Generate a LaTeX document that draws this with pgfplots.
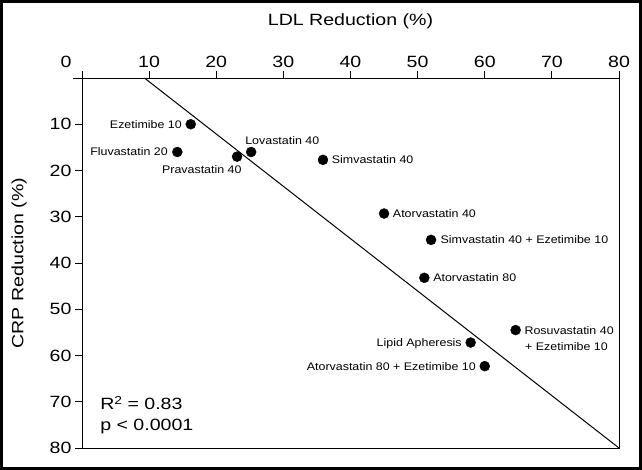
\documentclass[border=0pt]{standalone}
\usepackage{fontspec}
\setmainfont[FakeStretch=1.2]{Liberation Sans}
\newfontfamily\lblfont[FakeStretch=1.13]{Liberation Sans}
\usepackage{pgfplots}
\pgfplotsset{compat=1.18}
\begin{document}
\begin{tikzpicture}
\begin{axis}[
  at={(0,0)}, anchor=south west,
  scale only axis, width=537pt, height=370pt,
  xmin=0, xmax=80, ymin=0, ymax=80, y dir=reverse,
  xtick={10,20,...,80}, ytick={10,20,...,80},
  extra x ticks={0},
  extra x tick style={xtick pos=upper, xticklabel pos=upper, xticklabel style={xshift=-16pt}},
  xtick pos=upper, xticklabel pos=upper, ytick pos=left,
  tick align=outside, major tick length=7pt,
  tick style={black, line width=0.8pt},
  axis line style={line width=0.9pt},
  tick label style={font=\fontsize{16.3}{19}\selectfont},
  /pgf/number format/assume math mode=true,
  xlabel={LDL Reduction (\%)}, ylabel={CRP Reduction (\%)},
  label style={font=\fontsize{16.3}{19}\selectfont},
  xlabel style={at={(axis description cs:0.5,1.152)}, anchor=center},
  ylabel style={at={(axis description cs:-0.117,0.5)}, anchor=center},
  clip=false,
]
\draw[line width=0.9pt] (axis cs:-1.3,0) -- (axis cs:0,0);
\addplot[black, line width=1pt] coordinates {(9.3,0) (80,80)};
\addplot[only marks, mark=*, mark size=5pt, black] coordinates {
  (16.2,10.0) (14.2,16.0) (23.1,17.0) (25.2,16.0) (35.9,17.7)
  (45.0,29.3) (52.0,35.0) (51.0,43.2) (64.6,54.5) (57.9,57.2) (60.0,62.3)
};
\begin{scope}[every node/.style={inner sep=0pt, font=\lblfont\fontsize{11}{13}\selectfont}]
\node[anchor=east] at (axis cs:14.9,10.0) {Ezetimibe 10};
\node[anchor=east] at (axis cs:12.8,16.0) {Fluvastatin 20};
\node[anchor=east] at (axis cs:23.8,19.9) {Pravastatin 40};
\node[anchor=west] at (axis cs:24.3,13.5) {Lovastatin 40};
\node[anchor=west] at (axis cs:37.2,17.7) {Simvastatin 40};
\node[anchor=west] at (axis cs:46.3,29.3) {Atorvastatin 40};
\node[anchor=west] at (axis cs:53.4,35.0) {Simvastatin 40 + Ezetimibe 10};
\node[anchor=west] at (axis cs:52.3,43.2) {Atorvastatin 80};
\node[anchor=west] at (axis cs:65.9,54.6) {Rosuvastatin 40};
\node[anchor=west] at (axis cs:66.0,58.1) {+ Ezetimibe 10};
\node[anchor=east] at (axis cs:56.6,57.5) {Lipid Apheresis};
\node[anchor=east] at (axis cs:58.7,62.4) {Atorvastatin 80 + Ezetimibe 10};
\end{scope}
\begin{scope}[every node/.style={inner sep=0pt, font=\fontsize{16.3}{19}\selectfont}]
\node[anchor=west] at (axis cs:2.7,70.3) {R{\fontsize{11.5}{12}\selectfont\raisebox{5.5pt}{2}} = 0.83};
\node[anchor=west] at (axis cs:2.7,75.4) {p < 0.0001};
\end{scope}
\end{axis}
\draw[line width=3pt] (-80.5pt,-20.5pt) rectangle (558.5pt,446.5pt);
\end{tikzpicture}
\end{document}
